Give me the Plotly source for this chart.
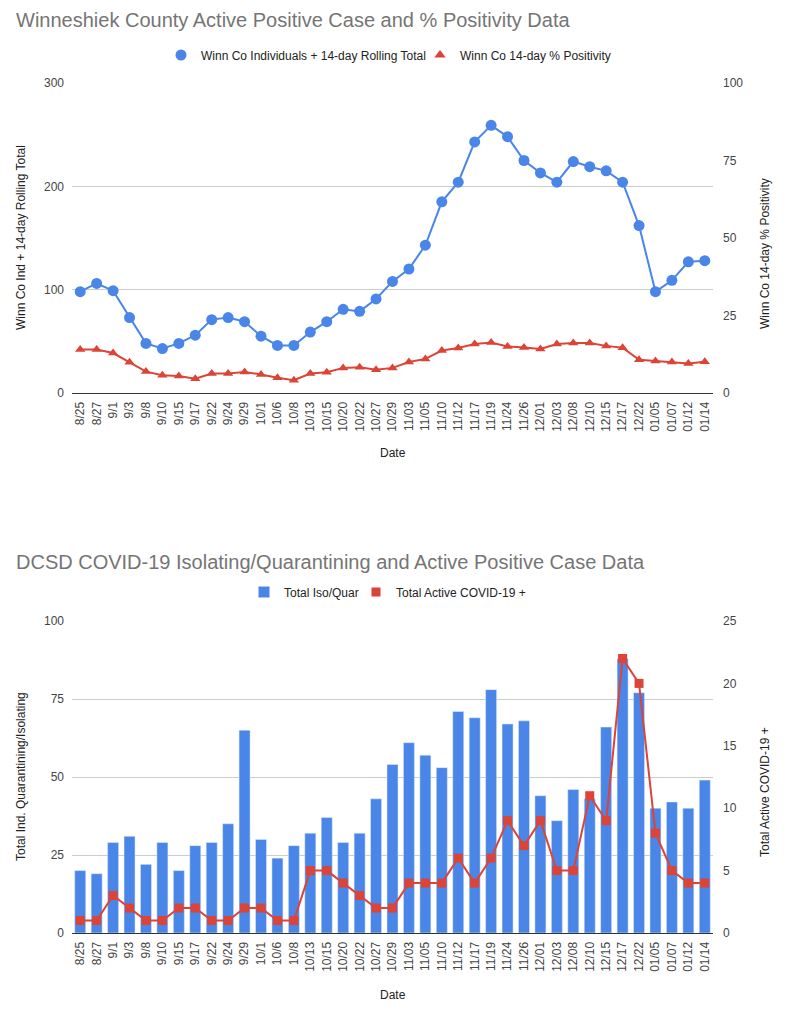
import plotly.graph_objects as go

dates = ["8/25", "8/27", "9/1", "9/3", "9/8", "9/10", "9/15", "9/17", "9/22", "9/24",
         "9/29", "10/1", "10/6", "10/8", "10/13", "10/15", "10/20", "10/22", "10/27", "10/29",
         "11/03", "11/05", "11/10", "11/12", "11/17", "11/19", "11/24", "11/26", "12/01", "12/03",
         "12/08", "12/10", "12/15", "12/17", "12/22", "01/05", "01/07", "01/12", "01/14"]

winn_rolling = [98, 106, 99, 73, 48, 43, 48, 56, 71, 73,
                69, 55, 46, 46, 59, 69, 81, 79, 91, 108,
                120, 143, 185, 204, 243, 259, 248, 225, 213, 204,
                224, 219, 215, 204, 162, 98, 109, 127, 128]

winn_positivity = [14.0, 14.0, 12.9, 9.9, 6.9, 5.7, 5.5, 4.6, 6.3, 6.3,
                   6.8, 6.0, 4.9, 4.1, 6.3, 6.7, 8.1, 8.3, 7.5, 8.1,
                   10.0, 11.0, 13.7, 14.5, 15.8, 16.3, 15.0, 14.7, 14.2, 15.8,
                   16.1, 16.1, 15.2, 14.6, 10.7, 10.3, 10.0, 9.5, 10.1]

iso_quar = [20, 19, 29, 31, 22, 29, 20, 28, 29, 35,
            65, 30, 24, 28, 32, 37, 29, 32, 43, 54,
            61, 57, 53, 71, 69, 78, 67, 68, 44, 36,
            46, 43, 66, 88, 77, 40, 42, 40, 49]

active_pos = [1, 1, 3, 2, 1, 1, 2, 2, 1, 1,
              2, 2, 1, 1, 5, 5, 4, 3, 2, 2,
              4, 4, 4, 6, 4, 6, 9, 7, 9, 5,
              5, 11, 9, 22, 20, 8, 5, 4, 4]

BLUE = "#4a86e8"
RED = "#db4437"
FONT = "Liberation Sans, Arial, sans-serif"
W, H = 811, 1024

def px(x):
    return x / W

def py(y):
    return 1 - y / H

fig = go.Figure()

# Top chart
fig.add_trace(go.Scatter(x=dates, y=winn_rolling, mode="lines+markers",
                         line=dict(color=BLUE, width=2),
                         marker=dict(symbol="circle", size=11, color=BLUE),
                         showlegend=False, xaxis="x", yaxis="y"))
fig.add_trace(go.Scatter(x=dates, y=winn_positivity, mode="lines+markers",
                         line=dict(color=RED, width=2),
                         marker=dict(symbol="triangle-up", size=9, color=RED),
                         showlegend=False, xaxis="x", yaxis="y2"))
fig.add_trace(go.Scatter(x=[None], y=[None], mode="markers", name="Winn Co Individuals + 14-day Rolling Total",
                         marker=dict(symbol="circle", size=11, color=BLUE), legend="legend",
                         xaxis="x", yaxis="y"))
fig.add_trace(go.Scatter(x=[None], y=[None], mode="markers", name="Winn Co 14-day % Positivity",
                         marker=dict(symbol="triangle-up", size=10, color=RED), legend="legend2",
                         xaxis="x", yaxis="y"))

# Bottom chart
fig.add_trace(go.Bar(x=dates, y=iso_quar, marker=dict(color=BLUE), name="Total Iso/Quar",
                     showlegend=False, xaxis="x2", yaxis="y3"))
fig.add_trace(go.Scatter(x=dates, y=active_pos, mode="lines+markers",
                         line=dict(color=RED, width=2),
                         marker=dict(symbol="square", size=9, color=RED),
                         showlegend=False, xaxis="x2", yaxis="y4"))
fig.add_trace(go.Scatter(x=[None], y=[None], mode="markers", name="Total Iso/Quar",
                         marker=dict(symbol="square", size=11, color=BLUE), legend="legend3",
                         xaxis="x2", yaxis="y3"))
fig.add_trace(go.Scatter(x=[None], y=[None], mode="markers", name="Total Active COVID-19 +",
                         marker=dict(symbol="square", size=9, color=RED), legend="legend4",
                         xaxis="x2", yaxis="y3"))

xdom = [px(72), px(713)]
top_dom = [py(393), py(83)]
bot_dom = [py(933), py(621)]

tickfont = dict(family=FONT, size=12, color="#444444")

xcommon = dict(type="category", tickangle=-90, tickfont=tickfont, showgrid=False,
               showline=True, linecolor="#333333", linewidth=1, ticks="", automargin=False,
               domain=xdom, fixedrange=True, range=[-0.5, len(dates) - 0.5],
               categoryorder="array", categoryarray=dates, ticklabelstandoff=3)

legend_font = dict(family=FONT, size=12, color="#222222")

def legend_at(x_px, y_px):
    return dict(orientation="h", x=px(x_px), xanchor="left", y=py(y_px), yanchor="middle",
                font=legend_font, itemwidth=30, bgcolor="rgba(0,0,0,0)")

fig.update_layout(
    width=W, height=H,
    margin=dict(l=0, r=0, t=0, b=0),
    paper_bgcolor="white", plot_bgcolor="white",
    font=dict(family=FONT, size=12, color="#222222"),
    bargap=0.33,
    xaxis=dict(**xcommon, anchor="y"),
    yaxis=dict(domain=top_dom, range=[0, 300], tickvals=[0, 100, 200, 300],
               gridcolor="#cccccc", tickfont=tickfont, zeroline=False, showline=False,
               automargin=False, ticks="", ticklabelstandoff=7),
    yaxis2=dict(overlaying="y", side="right", range=[0, 100], tickvals=[0, 25, 50, 75, 100],
                showgrid=False, tickfont=tickfont, zeroline=False, automargin=False,
                anchor="x", ticks="", ticklabelstandoff=9),
    xaxis2=dict(**xcommon, anchor="y3"),
    yaxis3=dict(domain=bot_dom, range=[0, 100], tickvals=[0, 25, 50, 75, 100],
                gridcolor="#cccccc", tickfont=tickfont, zeroline=False, showline=False,
                automargin=False, ticks="", anchor="x2", ticklabelstandoff=7),
    yaxis4=dict(overlaying="y3", side="right", range=[0, 25], tickvals=[0, 5, 10, 15, 20, 25],
                showgrid=False, tickfont=tickfont, zeroline=False, automargin=False,
                anchor="x2", ticks="", ticklabelstandoff=9),
    legend=legend_at(161, 55),
    legend2=legend_at(420, 55),
    legend3=legend_at(244, 592),
    legend4=legend_at(356, 592),
)

ann_common = dict(xref="paper", yref="paper", showarrow=False)
title_font = dict(family=FONT, size=20, color="#757575")
axis_title_font = dict(family=FONT, size=12, color="#222222")

annotations = [
    dict(text="Winneshiek County Active Positive Case and % Positivity Data", x=px(14), y=py(20),
         xanchor="left", yanchor="middle", font=title_font),
    dict(text="DCSD COVID-19 Isolating/Quarantining and Active Positive Case Data", x=px(14), y=py(562),
         xanchor="left", yanchor="middle", font=title_font),
    dict(text="Winn Co Ind + 14-day Rolling Total", x=px(21), y=py(238), textangle=-90,
         xanchor="center", yanchor="middle", font=axis_title_font),
    dict(text="Winn Co 14-day % Positivity", x=px(765), y=py(254), textangle=-90,
         xanchor="center", yanchor="middle", font=axis_title_font),
    dict(text="Date", x=px(393), y=py(453), xanchor="center", yanchor="middle", font=axis_title_font),
    dict(text="Total Ind. Quarantining/Isolating", x=px(21), y=py(777), textangle=-90,
         xanchor="center", yanchor="middle", font=axis_title_font),
    dict(text="Total Active COVID-19 +", x=px(765), y=py(792), textangle=-90,
         xanchor="center", yanchor="middle", font=axis_title_font),
    dict(text="Date", x=px(393), y=py(995), xanchor="center", yanchor="middle", font=axis_title_font),
]
fig.update_layout(annotations=[dict(**ann_common, **a) for a in annotations])

fig.write_html("out.html", config={"displayModeBar": False},
               post_script="document.body.style.margin='0';")
